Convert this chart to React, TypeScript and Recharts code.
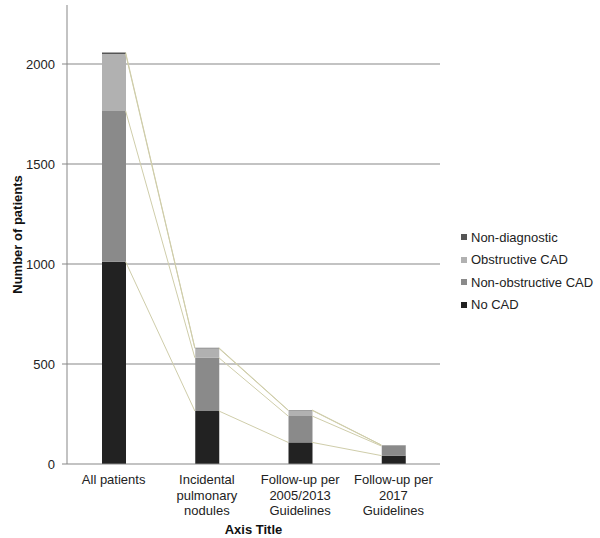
import React from "react";
import { ComposedChart, Bar, Line, XAxis, YAxis, CartesianGrid } from "recharts";

const categories = [
  "All patients",
  "Incidental\npulmonary\nnodules",
  "Follow-up per\n2005/2013\nGuidelines",
  "Follow-up per\n2017\nGuidelines",
];
const noCad = [1011, 265, 108, 42];
const nonObstructive = [754, 266, 132, 48];
const obstructive = [285, 47, 28, 4];
const nonDiagnostic = [8, 3, 2, 1];
const yTicks = [0, 500, 1000, 1500, 2000];

const seriesNames = ["No CAD", "Non-obstructive CAD", "Obstructive CAD", "Non-diagnostic"];
const seriesColors = ["#222222", "#8a8a8a", "#b1b1b1", "#555555"];
const seriesArrays = [noCad, nonObstructive, obstructive, nonDiagnostic];

const data = categories.map((c, i) => {
  const row: any = { name: c };
  let cum = 0;
  seriesArrays.forEach((arr, k) => {
    row["s" + k] = arr[i];
    cum += arr[i];
    row["c" + k] = cum;
  });
  return row;
});

const BAR = 24;
const FONT = "'Liberation Sans', Arial, sans-serif";
const FS = 13;
const CONNECTOR = "#cfcdaa";

const makeDot = (key: string) => (props: any) => {
  const { cx, cy, index, points } = props;
  if (!points || index >= points.length - 1) return <g key={`${key}-${index}`} />;
  const next = points[index + 1];
  return (
    <line
      key={`${key}-${index}`}
      x1={cx + BAR / 2}
      y1={cy}
      x2={next.x - BAR / 2}
      y2={next.y}
      stroke={CONNECTOR}
      strokeWidth={1}
    />
  );
};

const XTick = (props: any) => {
  const { x, y, payload } = props;
  const lines = String(payload.value).split("\n");
  return (
    <text x={x} y={y + 12} textAnchor="middle" fontFamily={FONT} fontSize={FS} fill="#222">
      {lines.map((l, i) => (
        <tspan key={i} x={x} dy={i === 0 ? 0 : 15.5}>
          {l}
        </tspan>
      ))}
    </text>
  );
};

export default function App() {
  return (
    <div style={{ position: "absolute", left: 0, top: 0, width: 600, height: 538, background: "#fff" }}>
      <ComposedChart
        width={600}
        height={538}
        data={data}
        margin={{ top: 5, right: 160, bottom: 0, left: 0 }}
        barCategoryGap={0}
      >
        <CartesianGrid vertical={false} stroke="#878787" strokeWidth={1} horizontalValues={[500, 1000, 1500, 2000]} />
        <XAxis
          dataKey="name"
          height={74}
          tick={<XTick />}
          tickLine={false}
          axisLine={{ stroke: "#878787" }}
          interval={0}
          label={(p: any) => {
            const vb = p.viewBox;
            return (
              <text
                x={vb.x + vb.width / 2}
                y={vb.y + 70}
                textAnchor="middle"
                fontFamily={FONT}
                fontSize={FS}
                fontWeight="bold"
                fill="#111"
              >
                Axis Title
              </text>
            );
          }}
        />
        <YAxis
          width={67}
          domain={[0, 2295]}
          ticks={yTicks}
          allowDataOverflow
          tickSize={5}
          tickMargin={7}
          tickLine={{ stroke: "#878787" }}
          axisLine={{ stroke: "#878787" }}
          tick={{ fontFamily: FONT, fontSize: FS, fill: "#222" }}
          label={(p: any) => {
            const vb = p.viewBox;
            const cy = vb.y + vb.height / 2;
            return (
              <text
                x={17}
                y={cy}
                transform={`rotate(-90, 17, ${cy})`}
                textAnchor="middle"
                dominantBaseline="central"
                fontFamily={FONT}
                fontSize={FS}
                fontWeight="bold"
                fill="#111"
              >
                Number of patients
              </text>
            );
          }}
        />
        {seriesNames.map((n, k) => (
          <Bar
            key={n}
            dataKey={"s" + k}
            name={n}
            stackId="a"
            fill={seriesColors[k]}
            barSize={BAR}
            isAnimationActive={false}
          />
        ))}
        {seriesNames.map((n, k) => (
          <Line
            key={"l" + k}
            dataKey={"c" + k}
            stroke="none"
            dot={makeDot("c" + k)}
            activeDot={false}
            legendType="none"
            isAnimationActive={false}
          />
        ))}
      </ComposedChart>
      <div style={{ position: "absolute", left: 461, top: 226, fontFamily: FONT, fontSize: FS, color: "#222" }}>
        {[3, 2, 1, 0].map((k) => (
          <div key={k} style={{ display: "flex", alignItems: "center", height: 22.5, whiteSpace: "nowrap" }}>
            <span style={{ display: "inline-block", width: 6, height: 6, background: seriesColors[k], marginRight: 4 }} />
            <span>{seriesNames[k]}</span>
          </div>
        ))}
      </div>
    </div>
  );
}
